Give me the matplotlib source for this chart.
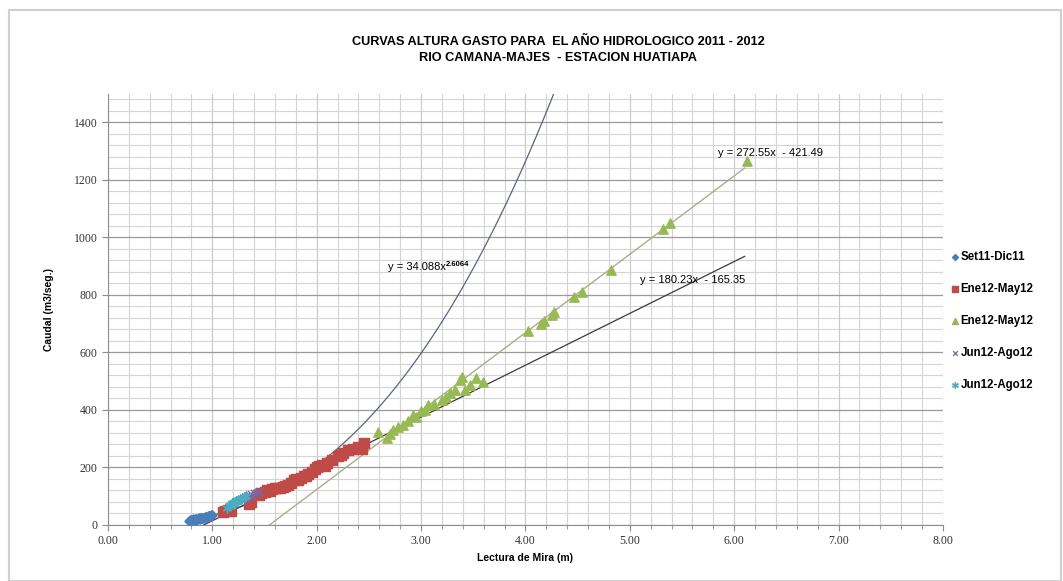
import numpy as np
import matplotlib
matplotlib.use('Agg')
import matplotlib.pyplot as plt
from matplotlib.ticker import MultipleLocator
from matplotlib.patches import Rectangle

# Aforos: lectura de mira (m) y caudal (m3/seg.)
set_dic_x = [0.78, 0.79, 0.80, 0.80, 0.81, 0.82, 0.83, 0.84, 0.84, 0.85, 0.86, 0.87, 0.88,
             0.88, 0.89, 0.90, 0.91, 0.92, 0.93, 0.94, 0.95, 0.96, 0.97, 0.98, 0.99, 1.00]
set_dic_y = [15, 18, 17, 14, 20, 19, 21, 22, 18, 20, 22, 23, 24,
             21, 23, 25, 26, 25, 27, 28, 28, 30, 31, 32, 33, 35]

ene_may_x = [1.10, 1.12, 1.15, 1.18, 1.35, 1.37, 1.45, 1.47, 1.50, 1.52, 1.55, 1.57, 1.60,
             1.62, 1.65, 1.68, 1.70, 1.72, 1.75, 1.78, 1.80, 1.82, 1.85, 1.88, 1.90, 1.92,
             1.95, 1.98, 2.00, 2.02, 2.05, 2.08, 2.10, 2.15, 2.20, 2.23, 2.25, 2.30, 2.35,
             2.40, 2.43, 2.45]
ene_may_y = [45, 50, 52, 48, 72, 80, 105, 110, 115, 120, 118, 125, 128,
             130, 127, 132, 135, 140, 145, 155, 160, 158, 165, 170, 172, 178,
             185, 195, 200, 205, 210, 205, 215, 225, 240, 245, 250, 262, 265,
             270, 265, 285]

ene_may2_x = [2.59, 2.67, 2.70, 2.73, 2.78, 2.83, 2.87, 2.92, 2.95, 3.00, 3.04, 3.07, 3.12,
              3.20, 3.24, 3.28, 3.32, 3.37, 3.39, 3.42, 3.47, 3.53, 3.59, 4.02, 4.15, 4.18,
              4.25, 4.27, 4.46, 4.54, 4.82, 5.32, 5.38, 6.12]
ene_may2_y = [323, 302, 315, 330, 340, 347, 360, 382, 375, 395, 399, 417, 420,
              434, 445, 458, 470, 503, 514, 469, 486, 510, 497, 675, 700, 710,
              730, 740, 792, 809, 886, 1028, 1049, 1265]

jun_ago_x = [1.30, 1.32, 1.34, 1.35, 1.37, 1.38, 1.40, 1.42, 1.44, 1.45]
jun_ago_y = [92, 95, 100, 105, 108, 102, 110, 112, 115, 118]

jun_ago2_x = [1.14, 1.16, 1.17, 1.18, 1.19, 1.20, 1.21, 1.22, 1.23, 1.24, 1.25, 1.26, 1.27,
              1.28, 1.30, 1.32]
jun_ago2_y = [60, 65, 70, 68, 75, 78, 72, 80, 85, 82, 88, 90, 86, 95, 98, 100]

# Curvas de ajuste
pot_a, pot_b = 34.088, 2.6064
lin1_m, lin1_c = 180.23, -165.35
lin2_m, lin2_c = 272.55, -421.49

plt.rcParams['font.family'] = ['Liberation Sans', 'DejaVu Sans']

fig = plt.figure(figsize=(10.63, 5.81), dpi=100)
fig.patches.append(Rectangle((0.008, 0.0), 0.99, 0.982, transform=fig.transFigure,
                             fill=False, edgecolor='#d0d0d0', linewidth=1.5))
ax = fig.add_axes([0.1016, 0.0964, 0.7855, 0.7426])

ax.set_xlim(0, 8)
ax.set_ylim(0, 1500)
ax.xaxis.set_major_locator(MultipleLocator(1))
ax.xaxis.set_minor_locator(MultipleLocator(0.2))
ax.yaxis.set_major_locator(MultipleLocator(200))
ax.yaxis.set_minor_locator(MultipleLocator(40))
ax.grid(which='minor', color='#d4d4d4', linewidth=0.8)
ax.grid(which='major', axis='x', color='#c8c8c8', linewidth=0.8)
ax.grid(which='major', axis='y', color='#9a9a9a', linewidth=0.9)
ax.set_axisbelow(True)
for s in ['top', 'right']:
    ax.spines[s].set_visible(False)
for s in ['left', 'bottom']:
    ax.spines[s].set_color('#8c8c8c')
ax.tick_params(which='major', direction='out', length=4, color='#8c8c8c')
ax.tick_params(axis='y', which='minor', length=0)
ax.tick_params(axis='x', which='minor', direction='out', length=3, color='#8c8c8c')
ax.xaxis.set_major_formatter(matplotlib.ticker.FormatStrFormatter('%.2f'))
for lab in ax.get_xticklabels() + ax.get_yticklabels():
    lab.set_fontfamily('Liberation Serif')
    lab.set_fontsize(8.5)
    lab.set_color('#333333')

# lineas de tendencia
xp = np.linspace(0.78, 4.3, 200)
ax.plot(xp, pot_a * xp ** pot_b, color='#5a6480', linewidth=0.9)
xl1 = np.linspace(-lin1_c / lin1_m, 6.1, 2)
ax.plot(xl1, lin1_m * xl1 + lin1_c, color='#3a3a3a', linewidth=0.9)
xl2 = np.linspace(-lin2_c / lin2_m, 6.1, 2)
ax.plot(xl2, lin2_m * xl2 + lin2_c, color='#a9ad8c', linewidth=1.0)

ax.scatter(set_dic_x, set_dic_y, marker='D', s=22, color='#4a7ebb', label='Set11-Dic11', zorder=3)
ax.scatter(ene_may_x, ene_may_y, marker='s', s=45, color='#be4b48', label='Ene12-May12', zorder=3)
ax.scatter(ene_may2_x, ene_may2_y, marker='^', s=45, color='#98b954', label='Ene12-May12', zorder=3)
ax.scatter(jun_ago_x, jun_ago_y, marker='x', s=28, color='#8064a2', linewidths=0.9,
           label='Jun12-Ago12', zorder=3)
ax.scatter(jun_ago2_x, jun_ago2_y, marker=(6, 2, 0), s=40, color='#4bacc6', linewidths=1.0,
           label='Jun12-Ago12', zorder=3)

pot_txt = ax.text(2.68, 896, 'y = 34.088x', fontsize=8, ha='left', va='center')
ax.annotate('2.6064', xy=(1.0, 0.75), xycoords=pot_txt, fontsize=5.5,
            fontweight='bold', ha='left', va='center')
ax.text(5.84, 1292, 'y = 272.55x  - 421.49', fontsize=8, ha='left', va='center')
ax.text(5.10, 851, 'y = 180.23x  - 165.35', fontsize=8, ha='left', va='center')

ax.set_xlabel('Lectura de Mira (m)', fontsize=7.5, fontweight='bold', labelpad=4)
ax.set_ylabel('Caudal (m3/seg.)', fontsize=7.5, fontweight='bold', labelpad=14)
fig.text(0.525, 0.914, 'CURVAS ALTURA GASTO PARA  EL AÑO HIDROLOGICO 2011 - 2012\n'
         'RIO CAMANA-MAJES  - ESTACION HUATIAPA', ha='center', va='center',
         fontsize=9.2, fontweight='bold', linespacing=1.35)

leg = ax.legend(loc='upper left', bbox_to_anchor=(0.995, 0.66), frameon=False,
                handletextpad=0.0, labelspacing=1.75, handlelength=1.0, markerscale=0.65,
                prop={'weight': 'bold', 'size': 8.3})

fig.savefig('out.png', dpi=100)
